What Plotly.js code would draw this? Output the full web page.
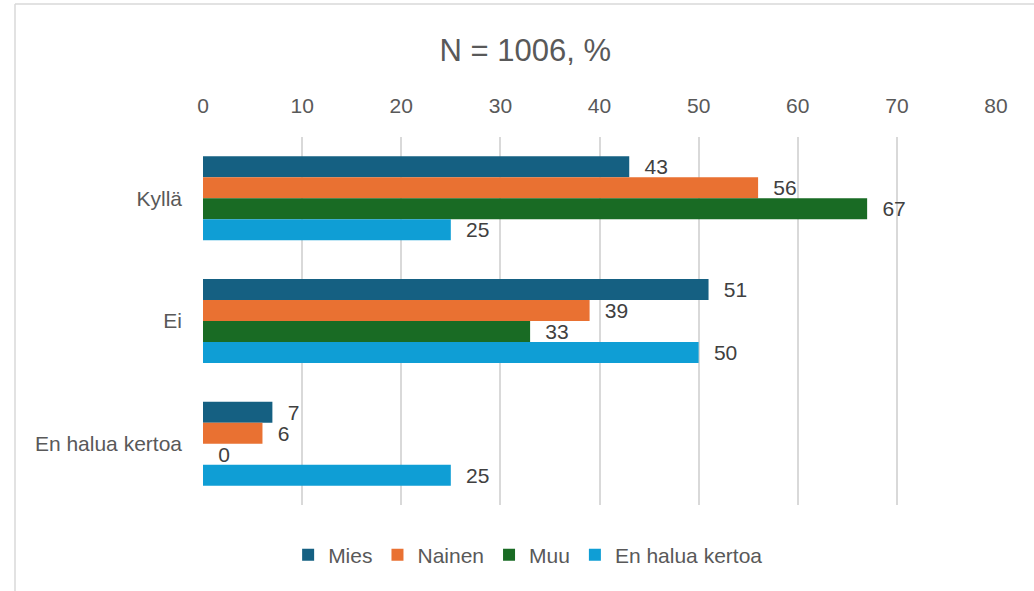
<!DOCTYPE html>
<html>
<head>
<meta charset="utf-8">
<script src="https://cdn.plot.ly/plotly-3.0.1.min.js"></script>
<style>
html,body{margin:0;padding:0;background:#fff;}
#chart{width:1034px;height:591px;}
</style>
</head>
<body>
<div id="chart"></div>
<script>
var categories = ["Kyllä", "Ei", "En halua kertoa"];
var seriesNames = ["Mies", "Nainen", "Muu", "En halua kertoa"];
var mies = [43, 51, 7];
var nainen = [56, 39, 6];
var muu = [67, 33, 0];
var enHalua = [25, 50, 25];
var xTicks = [0, 10, 20, 30, 40, 50, 60, 70, 80];
var colors = ["#156082", "#E97132", "#196B24", "#0F9ED5"];

var values = [mies, nainen, muu, enHalua];
var traces = values.map(function (vals, i) {
  return {
    type: "bar",
    orientation: "h",
    name: seriesNames[i],
    y: categories,
    x: vals,
    marker: { color: colors[i] },
    text: vals.map(function (v) { return "\u2002\u200A" + v; }),
    textposition: "outside",
    constraintext: "none",
    cliponaxis: false,
    textfont: { family: "Liberation Sans, Arial, sans-serif", size: 21, color: "#404040" },
    hoverinfo: "x+name"
  };
});

var L = 203, R = 996, T = 137, B = 505;
function px2x(px) { return (px - L) / (R - L); }
function py2y(py) { return (B - py) / (B - T); }

var layout = {
  width: 1034,
  height: 591,
  margin: { l: L, r: 1034 - R, t: T, b: 591 - B },
  paper_bgcolor: "#ffffff",
  plot_bgcolor: "#ffffff",
  font: { family: "Liberation Sans, Arial, sans-serif", color: "#595959", size: 21 },
  title: {
    text: "N = 1006, %",
    font: { size: 31, color: "#595959", family: "Liberation Sans, Arial, sans-serif" },
    x: 0.508, xref: "container", xanchor: "center",
    y: 0.915, yref: "container", yanchor: "middle"
  },
  barmode: "group",
  bargap: 0.315,
  bargroupgap: 0,
  xaxis: {
    side: "top",
    range: [0, 80],
    tickvals: xTicks,
    ticktext: xTicks.map(String),
    showgrid: true,
    gridcolor: "#d9d9d9",
    gridwidth: 1.5,
    zeroline: false,
    showline: false,
    ticks: "",
    ticklabelstandoff: 19,
    tickfont: { size: 21, color: "#595959" },
    fixedrange: true
  },
  yaxis: {
    type: "category",
    autorange: "reversed",
    showgrid: false,
    zeroline: false,
    showline: false,
    ticks: "",
    ticklabelstandoff: 20,
    tickfont: { size: 21, color: "#595959" },
    fixedrange: true
  },
  legend: {
    orientation: "h",
    x: 0.41, xanchor: "center",
    y: -0.136, yanchor: "middle",
    font: { size: 21, color: "#595959" },
    traceorder: "normal",
    itemclick: false
  },
  shapes: [
    { type: "line", xref: "paper", yref: "paper", x0: px2x(15), x1: px2x(15), y0: py2y(4), y1: py2y(600),
      line: { color: "#d9d9d9", width: 1.5 } },
    { type: "line", xref: "paper", yref: "paper", x0: px2x(15), x1: px2x(1040), y0: py2y(4), y1: py2y(4),
      line: { color: "#d9d9d9", width: 1.5 } }
  ],
  showlegend: true
};

Plotly.newPlot("chart", traces, layout, { displayModeBar: false, staticPlot: false });
</script>
</body>
</html>
